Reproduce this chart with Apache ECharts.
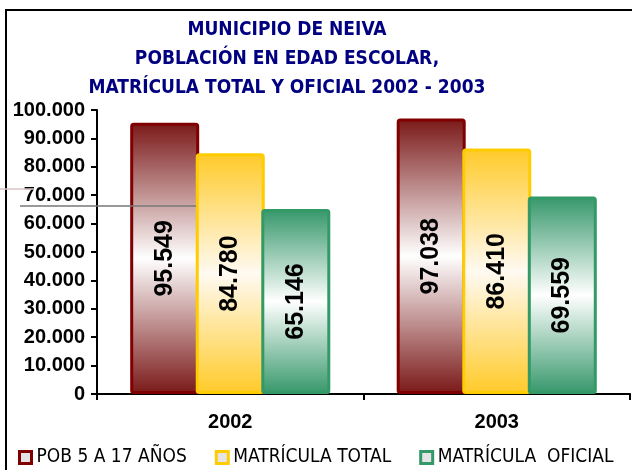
<!DOCTYPE html>
<html>
<head>
<meta charset="utf-8">
<script src="https://cdn.jsdelivr.net/npm/echarts@6/dist/echarts.min.js"></script>
<style>
  html, body { margin: 0; padding: 0; background: #fff; }
  #chart { width: 632px; height: 470px; }
</style>
</head>
<body>
<div id="chart"></div>
<script>
const years = ['2002', '2003']
const pob = [95549, 97038]
const matTotal = [84780, 86410]
const matOficial = [65146, 69559]
const seriesNames = ['POB 5 A 17 AÑOS', 'MATRÍCULA TOTAL', 'MATRÍCULA  OFICIAL']

const narrow = '"Liberation Sans Narrow", "DejaVu Sans Condensed", "Liberation Sans", sans-serif'
const arial = '"Liberation Sans", Arial, sans-serif'
const fmt = v => String(v).replace(/\B(?=(\d{3})+(?!\d))/g, '.')

const grad = (edge, mid) => new echarts.graphic.LinearGradient(0, 0, 0, 1, [
  { offset: 0, color: edge }, { offset: 0.5, color: mid }, { offset: 1, color: edge }
])

const styles = [
  { border: '#800000', fill: grad('#7a1818', '#ffffff') },
  { border: '#ffcc00', fill: grad('#ffca28', '#fffaf2') },
  { border: '#339966', fill: grad('#35976a', '#ffffff') }
]

const mkSeries = (name, data, st) => ({
  name,
  type: 'bar',
  data,
  barWidth: 69,
  barGap: '-5%',
  itemStyle: { color: st.fill, borderColor: st.border, borderWidth: 3, borderRadius: 2 },
  label: {
    show: true, position: 'inside', rotate: 90,
    formatter: p => fmt(p.value),
    color: '#000', fontFamily: arial, fontWeight: 'bold', fontSize: 25
  }
})

const chart = echarts.init(document.getElementById('chart'))
chart.setOption({
  animation: false,
  title: {
    text: 'MUNICIPIO DE NEIVA\nPOBLACIÓN EN EDAD ESCOLAR,\nMATRÍCULA TOTAL Y OFICIAL 2002 - 2003',
    left: 282, top: 11, textAlign: 'center',
    textStyle: { color: '#000080', fontFamily: narrow, fontWeight: 'bold', fontSize: 19, lineHeight: 29 }
  },
  legend: {
    left: 13, top: 443,
    icon: 'rect', itemWidth: 12, itemHeight: 12, itemGap: 28,
    textStyle: { color: '#000', fontFamily: narrow, fontSize: 19 },
    data: seriesNames.map((n, i) => ({
      name: n,
      itemStyle: { color: '#e4e4e4', borderColor: styles[i].border, borderWidth: 3 }
    }))
  },
  grid: { left: 97, right: 2, top: 110, bottom: 76 },
  xAxis: {
    type: 'category', data: years,
    axisLine: { lineStyle: { color: '#000', width: 2 } },
    axisTick: { show: true, length: 6, lineStyle: { color: '#000', width: 2 } },
    axisLabel: { color: '#000', fontFamily: arial, fontWeight: 'bold', fontSize: 20, margin: 18 }
  },
  yAxis: {
    type: 'value', min: 0, max: 100000, interval: 10000,
    axisLine: { show: true, lineStyle: { color: '#000', width: 2 } },
    axisTick: { show: true, length: 6, lineStyle: { color: '#000', width: 2 } },
    splitLine: { show: false },
    axisLabel: { color: '#000', fontFamily: arial, fontWeight: 'bold', fontSize: 20, margin: 12, formatter: fmt }
  },
  graphic: [
    { type: 'rect', shape: { x: 6, y: 10, width: 660, height: 500 }, style: { fill: 'none', stroke: '#000', lineWidth: 2 }, z: 100 },
    { type: 'line', shape: { x1: 20, y1: 206, x2: 196, y2: 206 }, style: { stroke: '#777', lineWidth: 1.5 }, z: 100 },
    { type: 'line', shape: { x1: 0, y1: 189, x2: 34, y2: 189 }, style: { stroke: '#d4c4c4', lineWidth: 1.5 }, z: 100 }
  ],
  series: [
    mkSeries(seriesNames[0], pob, styles[0]),
    mkSeries(seriesNames[1], matTotal, styles[1]),
    mkSeries(seriesNames[2], matOficial, styles[2])
  ]
})
</script>
</body>
</html>
